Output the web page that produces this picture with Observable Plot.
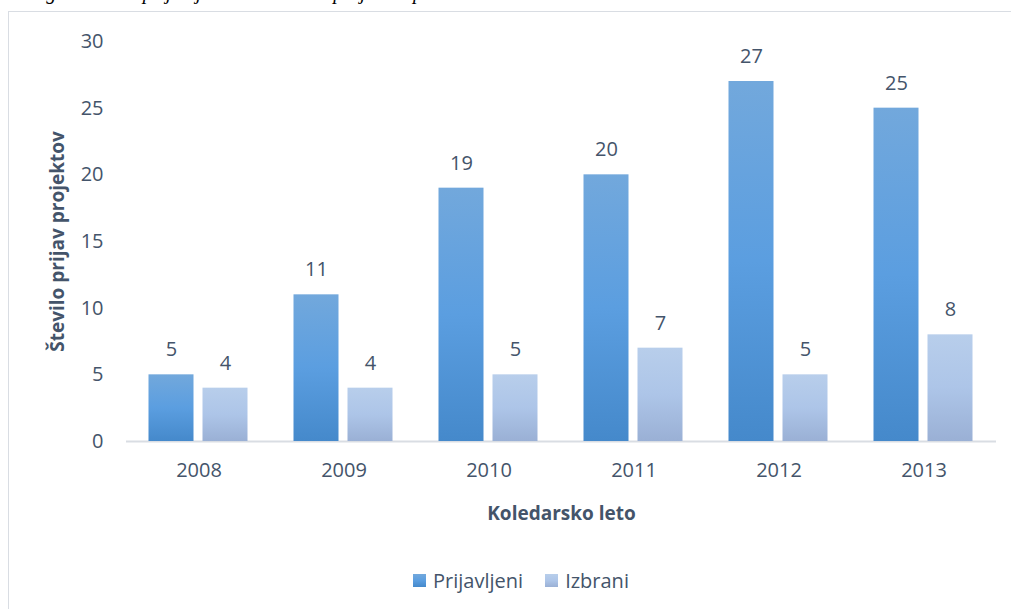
<!DOCTYPE html>
<html>
<head>
<meta charset="utf-8">
<script src="https://cdn.jsdelivr.net/npm/d3@7"></script>
<script src="https://cdn.jsdelivr.net/npm/@observablehq/plot@0.6"></script>
<style>
  html, body { margin: 0; padding: 0; background: #fff; overflow: hidden; width: 1011px; height: 609px; }
  #frame { position: absolute; left: 8px; top: 11px; width: 1026px; height: 620px; border: 1px solid #d9dde3; box-sizing: border-box; }
  #caption { position: absolute; left: 18px; top: -18px; font: italic 20px "Liberation Serif"; line-height: 20px; color: #000; white-space: nowrap; }
  #chart { position: absolute; left: 0; top: 0; }
  #chart g[aria-label$="axis label"] { font-weight: bold; font-size: 19px; }
  #legend { position: absolute; left: 8px; width: 1026px; top: 565px; height: 30px; display: flex; justify-content: center; align-items: center; gap: 22px; font: 20px "Open Sans"; color: #44546a; }
  .item { display: flex; align-items: center; gap: 7px; }
  .sw { width: 13px; height: 13px; display: inline-block; }
</style>
</head>
<body>
<div id="frame"></div>
<div id="caption">Pregled števila prijavljenih in izbranih projektov po letih</div>
<div id="chart"></div>
<div id="legend"></div>
<script>
const years = ["2008", "2009", "2010", "2011", "2012", "2013"];
const seriesNames = ["Prijavljeni", "Izbrani"];
const prijavljeni = [5, 11, 19, 20, 27, 25];
const izbrani = [4, 4, 5, 7, 5, 8];
const yTicks = [0, 5, 10, 15, 20, 25, 30];
const yTitle = "Število prijav projektov";
const xTitle = "Koledarsko leto";

const gradients = {
  Prijavljeni: { id: "gradP", stops: ["#72a8dc", "#5b9ee0", "#4589cb"] },
  Izbrani: { id: "gradI", stops: ["#b8ceeb", "#adc5e8", "#9ab0d5"] }
};

const data = years.flatMap((yr, i) => [
  { year: yr, series: seriesNames[0], value: prijavljeni[i] },
  { year: yr, series: seriesNames[1], value: izbrani[i] }
]);

const chart = Plot.plot({
  width: 1011,
  height: 540,
  marginTop: 41,
  marginBottom: 99,
  marginLeft: 125.5,
  marginRight: 15.5,
  style: { fontFamily: "'Open Sans'", fontSize: "20px", color: "#44546a", background: "transparent", overflow: "visible" },
  fx: { domain: years, padding: 0 },
  x: { domain: seriesNames, paddingInner: 9 / 55, paddingOuter: 0.4, axis: null },
  y: { domain: [0, 30], axis: null },
  marks: [
    Plot.axisY({ ticks: yTicks, tickSize: 0, tickPadding: 23, label: yTitle, labelAnchor: "center", labelOffset: 76, labelArrow: "none" }),
    Plot.axisFx({ anchor: "bottom", tickSize: 0, tickPadding: 21, label: xTitle, labelAnchor: "center", labelOffset: 78, labelArrow: "none" }),
    Plot.ruleY([0], { stroke: "#d9dde3", strokeWidth: 2 }),
    ...seriesNames.map(s => Plot.barY(data.filter(d => d.series === s), {
      fx: "year", x: "series", y: "value", fill: `url(#${gradients[s].id})`
    })),
    Plot.text(data, { fx: "year", x: "series", y: "value", text: d => String(d.value), dy: -25, fill: "#44546a", fontSize: 20 })
  ]
});

const defs = d3.select(chart).insert("defs", ":first-child");
for (const s of seriesNames) {
  const g = gradients[s];
  const lg = defs.append("linearGradient").attr("id", g.id).attr("x1", 0).attr("y1", 0).attr("x2", 0).attr("y2", 1);
  g.stops.forEach((c, k) => lg.append("stop").attr("offset", k / (g.stops.length - 1)).attr("stop-color", c));
}
document.getElementById("chart").appendChild(chart);

const legend = d3.select("#legend");
for (const s of seriesNames) {
  const st = gradients[s].stops;
  const item = legend.append("div").attr("class", "item");
  item.append("span").attr("class", "sw").style("background", `linear-gradient(${st[0]}, ${st[1]}, ${st[2]})`);
  item.append("span").text(s);
}
</script>
</body>
</html>
